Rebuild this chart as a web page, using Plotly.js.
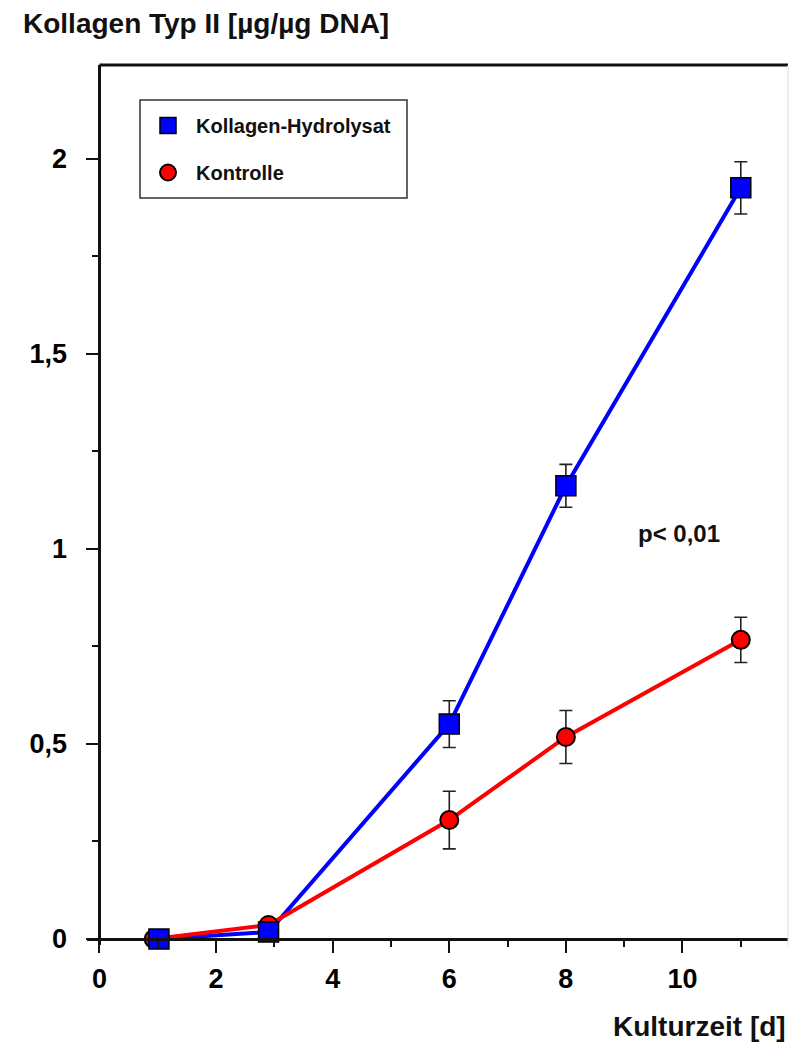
<!DOCTYPE html>
<html>
<head>
<meta charset="utf-8">
<script src="https://cdn.plot.ly/plotly-3.0.1.min.js"></script>
<style>html,body{margin:0;padding:0;background:#fff;}#chart{width:789px;height:1042px;}</style>
</head>
<body>
<div id="chart"></div>
<script>
// Data
const hydroDays = [1.02, 2.9, 6, 8, 11];
const hydroValues = [0.0, 0.018, 0.551, 1.162, 1.926];
const hydroErrors = [0, 0, 0.06, 0.055, 0.067];

const controlDays = [0.93, 2.9, 6, 8, 11];
const controlValues = [0.0, 0.036, 0.305, 0.518, 0.767];
const controlErrors = [0, 0, 0.074, 0.068, 0.058];

const seriesNames = ["Kollagen-Hydrolysat", "Kontrolle"];
const yTickValues = [0, 0.5, 1, 1.5, 2];
const xTickValues = [0, 2, 4, 6, 8, 10];

const FONT = '"Liberation Sans", Arial, Helvetica, sans-serif';
const BLUE = '#0000ff';
const RED = '#ff0000';

const xRange = [-0.214, 11.81];
const yRange = [-0.0154, 2.241];
const yAxisPos = (0 - xRange[0]) / (xRange[1] - xRange[0]);
const xAxisPos = (0 - yRange[0]) / (yRange[1] - yRange[0]);

const errStyle = {type: 'data', visible: true, color: '#222', thickness: 1.6, width: 6.5};

const traces = [
  {x: hydroDays, y: hydroValues, mode: 'lines', line: {color: BLUE, width: 4},
   showlegend: false, hoverinfo: 'skip', cliponaxis: false},
  {x: controlDays, y: controlValues, mode: 'lines', line: {color: RED, width: 4},
   showlegend: false, hoverinfo: 'skip', cliponaxis: false},
  {x: controlDays, y: controlValues, mode: 'markers', name: seriesNames[1],
   legendrank: 2, legendgroup: 'b',
   marker: {symbol: 'circle', size: 18, color: RED, line: {color: '#000', width: 2}},
   error_y: Object.assign({array: controlErrors}, errStyle), cliponaxis: false},
  {x: hydroDays, y: hydroValues, mode: 'markers', name: seriesNames[0],
   legendrank: 1, legendgroup: 'a',
   marker: {symbol: 'square', size: 20, color: BLUE, line: {color: '#000', width: 1.5}},
   error_y: Object.assign({array: hydroErrors}, errStyle), cliponaxis: false}
];

const PW = 701, PH = 880, ML = 87, MT = 65;
const px2x = p => (p - ML) / PW;
const px2y = p => (MT + PH - p) / PH;

const layout = {
  width: 789, height: 1042,
  margin: {l: ML, r: 1, t: MT, b: 97},
  paper_bgcolor: '#fff', plot_bgcolor: '#fff',
  separators: ',.',
  font: {family: FONT, color: '#000', size: 20},
  showlegend: true,
  title: {
    text: '<b>Kollagen Typ II [µg/µg DNA]</b>',
    font: {family: FONT, size: 28, color: '#111'},
    x: 23 / 789, xanchor: 'left', xref: 'container',
    y: 1 - 23 / 1042, yanchor: 'middle', yref: 'container'
  },
  xaxis: {
    range: xRange, anchor: 'free', position: xAxisPos,
    showgrid: false, zeroline: false,
    showline: true, linecolor: '#111', linewidth: 3,
    ticks: 'outside', ticklen: 12, tickwidth: 2, tickcolor: '#111',
    tickvals: xTickValues, ticklabelstandoff: 3,
    tickfont: {family: FONT, size: 27, color: '#000', weight: 'bold'},
    minor: {dtick: 1, tick0: 1, ticks: 'outside', ticklen: 6, tickwidth: 2, tickcolor: '#111'}
  },
  yaxis: {
    range: yRange, anchor: 'free', position: yAxisPos,
    showgrid: false, zeroline: false,
    showline: true, linecolor: '#111', linewidth: 3,
    ticks: 'outside', ticklen: 12, tickwidth: 2, tickcolor: '#111',
    tickvals: yTickValues, ticklabelstandoff: 14,
    tickfont: {family: FONT, size: 27, color: '#000', weight: 'bold'},
    minor: {dtick: 0.25, tick0: 0, ticks: 'outside', ticklen: 6, tickwidth: 2, tickcolor: '#111'}
  },
  legend: {
    x: px2x(140), y: px2y(106), xanchor: 'left', yanchor: 'top',
    bgcolor: 'rgba(0,0,0,0)', borderwidth: 0,
    font: {family: FONT, size: 20, color: '#111', weight: 'bold'},
    tracegroupgap: 18, itemsizing: 'trace', itemwidth: 46
  },
  shapes: [
    {type: 'line', xref: 'paper', yref: 'paper', x0: yAxisPos, x1: 1, y0: 1, y1: 1,
     line: {color: '#111', width: 3}},
    {type: 'line', xref: 'paper', yref: 'paper', x0: 1, x1: 1, y0: 0, y1: 1,
     line: {color: '#ddd', width: 1}},
    {type: 'rect', xref: 'paper', yref: 'paper', layer: 'above',
     x0: px2x(140), x1: px2x(407), y0: px2y(198), y1: px2y(100),
     fillcolor: '#fff', line: {color: '#333', width: 1.5}}
  ],
  annotations: [
    {text: '<b>p< 0,01</b>', xref: 'x', yref: 'y', x: 9.94, y: 1.04,
     showarrow: false, font: {family: FONT, size: 24, color: '#111'}},
    {text: '<b>Kulturzeit [d]</b>', xref: 'paper', yref: 'paper', x: 1, xanchor: 'right',
     y: (945 - 1026) / 880, yanchor: 'middle', showarrow: false,
     font: {family: FONT, size: 28, color: '#111'}}
  ]
};

Plotly.newPlot('chart', traces, layout, {displayModeBar: false, staticPlot: true});
</script>
</body>
</html>
